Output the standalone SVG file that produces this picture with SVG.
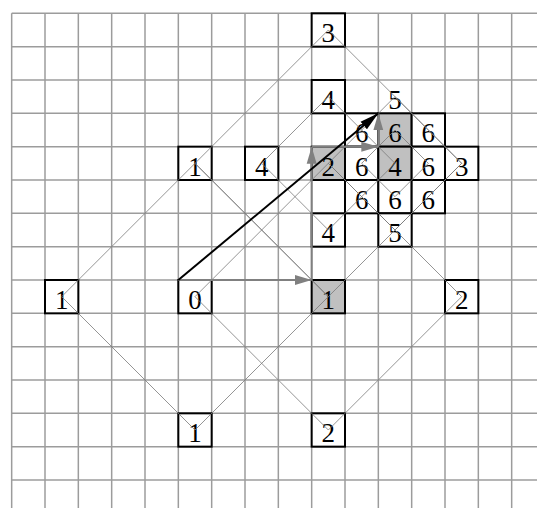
<svg xmlns="http://www.w3.org/2000/svg" width="537" height="508" viewBox="0 0 537 508">
<style>
.grid line{stroke:#9c9c9c;stroke-width:1.5}
.diam{fill:none;stroke:#7a7a7a;stroke-width:0.8}
.box{fill:#fff;stroke:#000;stroke-width:2}
.box.hi{fill:#c0c0c0}
text{font-family:"Liberation Serif","Times New Roman",serif;font-size:27px;text-anchor:middle;fill:#000}
.garrow{fill:none;stroke:#808080;stroke-width:2;marker-end:url(#gh)}
.barrow{fill:none;stroke:#000;stroke-width:2;marker-end:url(#bh)}
</style>
<defs>
<marker id="gh" markerUnits="userSpaceOnUse" markerWidth="20" markerHeight="12" refX="17" refY="5.5" orient="auto"><path d="M0,0.5 L17,5.5 L0,10.5 Z" fill="#808080"/></marker>
<marker id="bh" markerUnits="userSpaceOnUse" markerWidth="22" markerHeight="12" refX="19" refY="5.5" orient="auto"><path d="M0,0.5 L19,5.5 L0,10.5 Z" fill="#000"/></marker>
</defs>
<rect width="537" height="508" fill="#fff"/>
<g class="grid">
<line x1="11.67" y1="13.33" x2="11.67" y2="508"/>
<line x1="45" y1="13.33" x2="45" y2="508"/>
<line x1="78.33" y1="13.33" x2="78.33" y2="508"/>
<line x1="111.67" y1="13.33" x2="111.67" y2="508"/>
<line x1="145" y1="13.33" x2="145" y2="508"/>
<line x1="178.33" y1="13.33" x2="178.33" y2="508"/>
<line x1="211.67" y1="13.33" x2="211.67" y2="508"/>
<line x1="245" y1="13.33" x2="245" y2="508"/>
<line x1="278.33" y1="13.33" x2="278.33" y2="508"/>
<line x1="311.67" y1="13.33" x2="311.67" y2="508"/>
<line x1="345" y1="13.33" x2="345" y2="508"/>
<line x1="378.33" y1="13.33" x2="378.33" y2="508"/>
<line x1="411.67" y1="13.33" x2="411.67" y2="508"/>
<line x1="445" y1="13.33" x2="445" y2="508"/>
<line x1="478.33" y1="13.33" x2="478.33" y2="508"/>
<line x1="511.67" y1="13.33" x2="511.67" y2="508"/>
<line x1="11.67" y1="13.33" x2="537" y2="13.33"/>
<line x1="11.67" y1="46.67" x2="537" y2="46.67"/>
<line x1="11.67" y1="80" x2="537" y2="80"/>
<line x1="11.67" y1="113.33" x2="537" y2="113.33"/>
<line x1="11.67" y1="146.67" x2="537" y2="146.67"/>
<line x1="11.67" y1="180" x2="537" y2="180"/>
<line x1="11.67" y1="213.33" x2="537" y2="213.33"/>
<line x1="11.67" y1="246.67" x2="537" y2="246.67"/>
<line x1="11.67" y1="280" x2="537" y2="280"/>
<line x1="11.67" y1="313.33" x2="537" y2="313.33"/>
<line x1="11.67" y1="346.67" x2="537" y2="346.67"/>
<line x1="11.67" y1="380" x2="537" y2="380"/>
<line x1="11.67" y1="413.33" x2="537" y2="413.33"/>
<line x1="11.67" y1="446.67" x2="537" y2="446.67"/>
<line x1="11.67" y1="480" x2="537" y2="480"/>
</g>
<g id="nodes">
<g id="n-3a"><rect class="box" x="311.67" y="13.33" width="33.33" height="33.33"/><text x="328.33" y="42.3">3</text></g>
<g id="n-4a"><rect class="box" x="311.67" y="80" width="33.33" height="33.33"/><text x="328.33" y="109">4</text></g>
<g id="n-1n"><rect class="box" x="178.33" y="146.67" width="33.33" height="33.33"/><text x="195" y="175.6">1</text></g>
<g id="n-4w"><rect class="box" x="245" y="146.67" width="33.33" height="33.33"/><text x="261.67" y="175.6">4</text></g>
<g id="n-2c"><rect class="box hi" x="311.67" y="146.67" width="33.33" height="33.33"/><text x="328.33" y="175.6">2</text></g>
<g id="n-6a"><rect class="box" x="345" y="113.33" width="33.33" height="33.33"/><text x="361.67" y="142.3">6</text></g>
<g id="n-6b"><rect class="box hi" x="378.33" y="113.33" width="33.33" height="33.33"/><text x="395" y="142.3">6</text></g>
<g id="n-6c"><rect class="box" x="411.67" y="113.33" width="33.33" height="33.33"/><text x="428.33" y="142.3">6</text></g>
<g id="n-6d"><rect class="box" x="345" y="146.67" width="33.33" height="33.33"/><text x="361.67" y="175.6">6</text></g>
<g id="n-4c"><rect class="box hi" x="378.33" y="146.67" width="33.33" height="33.33"/><text x="395" y="175.6">4</text></g>
<g id="n-6e"><rect class="box" x="411.67" y="146.67" width="33.33" height="33.33"/><text x="428.33" y="175.6">6</text></g>
<g id="n-3b"><rect class="box" x="445" y="146.67" width="33.33" height="33.33"/><text x="461.67" y="175.6">3</text></g>
<g id="n-6f"><rect class="box" x="345" y="180" width="33.33" height="33.33"/><text x="361.67" y="209">6</text></g>
<g id="n-6g"><rect class="box" x="378.33" y="180" width="33.33" height="33.33"/><text x="395" y="209">6</text></g>
<g id="n-6h"><rect class="box" x="411.67" y="180" width="33.33" height="33.33"/><text x="428.33" y="209">6</text></g>
<g id="n-4s"><rect class="box" x="311.67" y="213.33" width="33.33" height="33.33"/><text x="328.33" y="242.3">4</text></g>
<g id="n-5s"><rect class="box" x="378.33" y="213.33" width="33.33" height="33.33"/><text x="395" y="242.3">5</text></g>
<g id="n-5n"><text x="395" y="109">5</text></g>
<g id="n-1w"><rect class="box" x="45" y="280" width="33.33" height="33.33"/><text x="61.67" y="309">1</text></g>
<g id="n-0"><rect class="box" x="178.33" y="280" width="33.33" height="33.33"/><text x="195" y="309">0</text></g>
<g id="n-1e"><rect class="box hi" x="311.67" y="280" width="33.33" height="33.33"/><text x="328.33" y="309">1</text></g>
<g id="n-2e"><rect class="box" x="445" y="280" width="33.33" height="33.33"/><text x="461.67" y="309">2</text></g>
<g id="n-1s"><rect class="box" x="178.33" y="413.33" width="33.33" height="33.33"/><text x="195" y="442.3">1</text></g>
<g id="n-2s"><rect class="box" x="311.67" y="413.33" width="33.33" height="33.33"/><text x="328.33" y="442.3">2</text></g>
</g>
<g id="connectors">
<polygon class="diam" points="61.67,296.67 195,163.33 328.33,296.67 195,430"/>
<polygon class="diam" points="195,296.67 328.33,163.33 461.67,296.67 328.33,430"/>
<polygon class="diam" points="195,163.33 328.33,30 461.67,163.33 328.33,296.67"/>
<polygon class="diam" points="261.67,163.33 328.33,96.67 395,163.33 328.33,230"/>
<polygon class="diam" points="328.33,163.33 395,96.67 461.67,163.33 395,230"/>
<polygon class="diam" points="361.67,163.33 395,130 428.33,163.33 395,196.67"/>
<path class="garrow" d="M178.33,280 H311.67"/>
<path class="garrow" d="M311.67,280 V146.67"/>
<path class="garrow" d="M311.67,146.67 H378.33"/>
<path class="garrow" d="M378.33,146.67 V113.33"/>
<path class="barrow" d="M178.33,280 L378.33,113.33"/>
</g>
</svg>
